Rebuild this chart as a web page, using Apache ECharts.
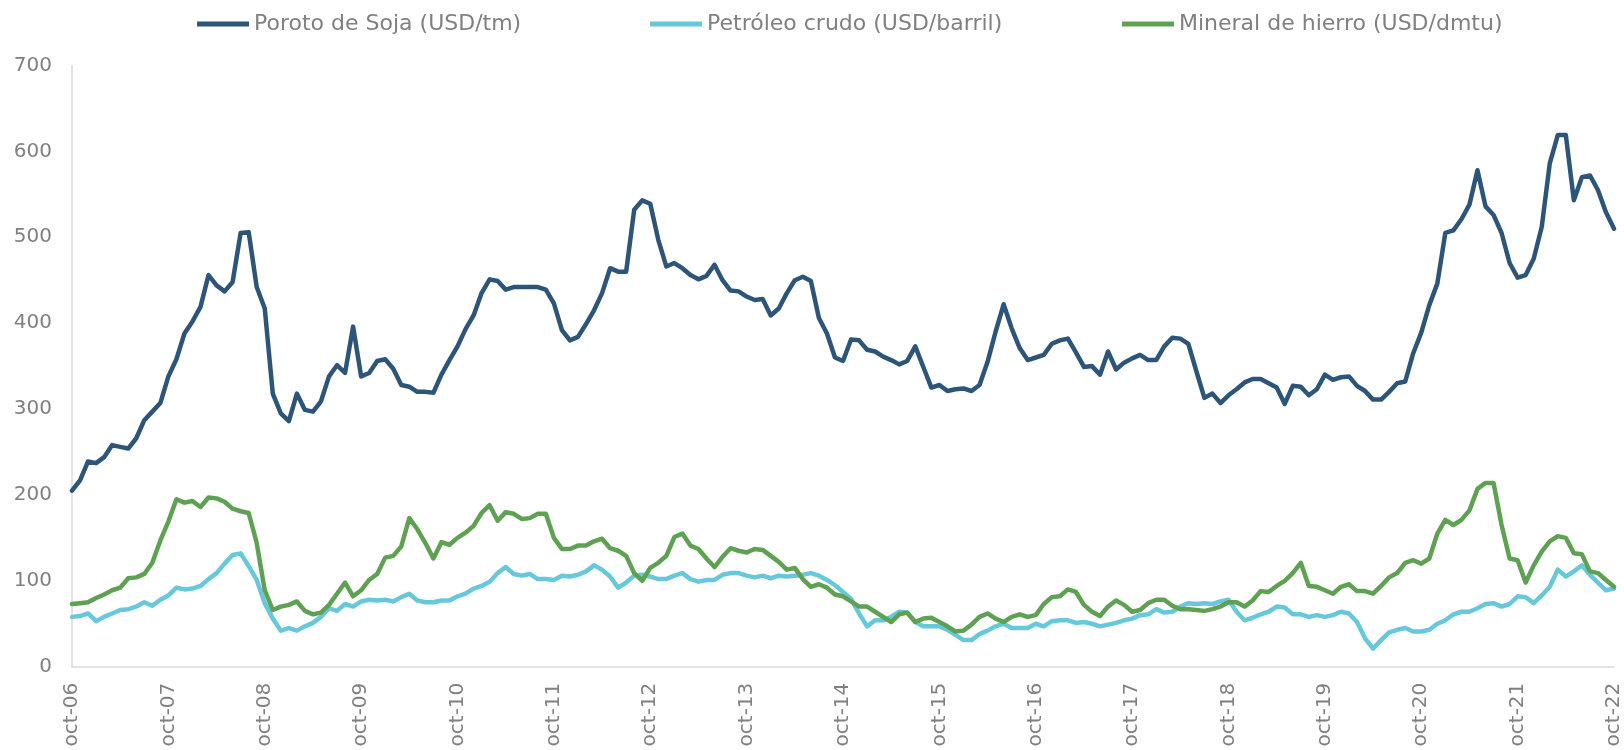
<!DOCTYPE html>
<html>
<head>
<meta charset="utf-8">
<title>Precios</title>
<script src="https://cdn.jsdelivr.net/npm/echarts@6/dist/echarts.min.js"></script>
<style>
  html, body { margin: 0; padding: 0; background: #fff; }
  #chart { width: 1624px; height: 750px; }
</style>
</head>
<body>
<div id="chart"></div>
<script>
// meses oct-06 .. oct-22
var meses = ['ene', 'feb', 'mar', 'abr', 'may', 'jun', 'jul', 'ago', 'sep', 'oct', 'nov', 'dic'];
var categorias = [];
for (var a = 2006; a <= 2022; a++) {
  for (var m = 0; m < 12; m++) {
    if (a === 2006 && m < 9) continue;
    if (a === 2022 && m > 9) continue;
    categorias.push(meses[m] + '-' + String(a).slice(2));
  }
}

var nombres = ['Poroto de Soja (USD/tm)', 'Petróleo crudo (USD/barril)', 'Mineral de hierro (USD/dmtu)'];
var colores = ['#2D5579', '#67C8DB', '#5EA152'];

var soja = [
  205, 217, 239, 237, 244, 258, 256, 254, 266, 287, 297, 307,
  338, 358, 388, 402, 419, 456, 444, 437, 448, 505, 506, 442,
  417, 318, 295, 286, 318, 299, 297, 309, 338, 351, 342, 396,
  338, 342, 356, 358, 347, 328, 326, 320, 320, 319, 340, 357,
  373, 393, 409, 435, 451, 449, 439, 442, 442, 442, 442, 439,
  423, 392, 380, 384, 399, 415, 435, 464, 460, 460, 532, 543,
  539, 497, 466, 470, 464, 456, 451, 455, 468, 450, 438, 437,
  431, 427, 428, 409, 417, 435, 450, 454, 449, 406, 388, 360,
  356, 381, 380, 369, 367, 361, 357, 352, 356, 373, 349, 325,
  328, 321, 323, 324, 321, 328, 355, 390, 422, 394, 371, 357,
  360, 363, 376, 380, 382, 366, 349, 350, 340, 367, 346, 354,
  359, 363, 357, 357, 373, 383, 382, 376, 344, 313, 318, 307,
  316, 323, 331, 335, 335, 330, 325, 306, 327, 326, 316, 323,
  340, 334, 337, 338, 327, 321, 311, 311, 320, 330, 332, 365,
  389, 421, 446, 505, 508, 521, 538, 578, 536, 526, 505, 470,
  453, 456, 475, 512, 586, 619, 619, 543, 570, 572, 555, 529,
  510
];

var petroleo = [
  58, 59, 62, 53, 58, 62, 66, 67, 70, 75, 71, 78,
  83, 92, 90, 91, 94, 102, 109, 120, 130, 132, 117, 101,
  74, 56, 42, 45, 42, 47, 51, 58, 68, 65, 73, 70,
  76, 78, 77, 78, 76, 81, 85, 77, 75, 75, 77, 77,
  82, 85, 91, 94, 99, 109, 116, 108, 106, 108, 102, 102,
  101, 106, 105, 107, 111, 118, 113, 105, 92, 98, 106, 107,
  105, 102, 102, 106, 109, 102, 99, 101, 101, 107, 109, 109,
  106, 104, 106, 103, 106, 105, 106, 107, 109, 106, 101, 95,
  87, 79, 62, 47, 54, 54, 58, 64, 63, 52, 47, 47,
  47, 43, 37, 31, 31, 38, 42, 47, 50, 45, 45, 45,
  50, 47, 53, 54, 54, 51, 52, 50, 47, 49, 51, 54,
  56, 60, 61, 67, 63, 64, 70, 74, 73, 74, 73, 76,
  78, 64, 54, 57, 61, 64, 70, 69, 61, 61, 58, 60,
  58, 60, 64, 62, 52, 33, 21, 31, 40, 43, 45, 41,
  41, 43, 50, 54, 61, 64, 64, 68, 73, 74, 70, 73,
  82, 81, 74, 83, 93, 113, 105, 111, 118, 107, 98, 89,
  91
];

var hierro = [
  73, 74, 75, 80, 84, 89, 92, 103, 104, 108, 121, 147,
  169, 195, 191, 193, 186, 197, 196, 192, 184, 181, 179, 144,
  89, 66, 70, 72, 76, 65, 61, 63, 72, 85, 98, 82,
  89, 101, 108, 127, 129, 140, 173, 160, 144, 126, 145, 142,
  150, 156, 164, 179, 188, 170, 180, 178, 172, 173, 178, 178,
  150, 137, 137, 141, 141, 146, 149, 138, 135, 129, 109, 100,
  115, 121, 129, 151, 155, 141, 137, 126, 116, 128, 138, 135,
  133, 137, 136, 129, 122, 113, 115, 102, 93, 96, 92, 84,
  82, 76, 70, 70, 64, 58, 52, 61, 63, 52, 56, 57,
  52, 47, 41, 42, 49, 58, 62, 56, 52, 58, 61, 58,
  60, 73, 81, 82, 90, 87, 72, 64, 59, 70, 77, 72,
  64, 66, 74, 78, 78, 71, 67, 67, 66, 65, 67, 70,
  75, 75, 70, 77, 88, 87, 94, 100, 109, 121, 94, 93,
  89, 85, 93, 96, 88, 88, 85, 94, 104, 109, 121, 124,
  120, 126, 155, 171, 165, 171, 182, 207, 214, 214, 165, 126,
  124, 98, 118, 134, 146, 152, 150, 132, 131, 111, 109, 101,
  93
];

var ticksY = [0, 100, 200, 300, 400, 500, 600, 700];

(function () {
  var myChart = echarts.init(document.getElementById('chart'));
  var fuente = 'DejaVu Sans';
  var gris = '#808080';

  // posicion de cada leyenda (estilo excel, repartidas)
  var legendLeft = [192, 645, 1117];
  var leyendas = nombres.map(function (n, k) {
    return {
      left: legendLeft[k],
      top: 8,
      icon: 'rect',
      itemWidth: 52,
      itemHeight: 5,
      textStyle: { color: gris, fontSize: 22, fontFamily: fuente },
      data: [n]
    };
  });

  var series = [soja, petroleo, hierro].map(function (d, k) {
    return {
      name: nombres[k],
      type: 'line',
      data: d,
      symbol: 'none',
      smooth: false,
      lineStyle: { width: 4.5, color: colores[k], join: 'round', cap: 'round' },
      itemStyle: { color: colores[k] }
    };
  });

  var option = {
    animation: false,
    color: colores,
    textStyle: { fontFamily: fuente },
    legend: leyendas,
    grid: { left: 72, right: 10, top: 65.5, bottom: 83.3, containLabel: false },
    xAxis: {
      type: 'category',
      data: categorias,
      boundaryGap: false,
      axisLine: { lineStyle: { color: '#d9d9d9', width: 1.5 } },
      axisTick: { show: false },
      axisLabel: {
        interval: 11,
        rotate: 90,
        margin: 16,
        color: gris,
        fontSize: 20,
        fontFamily: fuente,
        showMaxLabel: true
      },
      splitLine: { show: false }
    },
    yAxis: {
      type: 'value',
      min: ticksY[0],
      max: ticksY[ticksY.length - 1],
      interval: 100,
      axisLine: { show: true, lineStyle: { color: '#d9d9d9', width: 1.5 } },
      axisTick: { show: false },
      axisLabel: { color: gris, fontSize: 20, fontFamily: fuente, margin: 20 },
      splitLine: { show: false }
    },
    series: series
  };

  myChart.setOption(option);
  window.addEventListener('resize', function () {
    myChart.resize();
  });
})();
</script>
</body>
</html>
